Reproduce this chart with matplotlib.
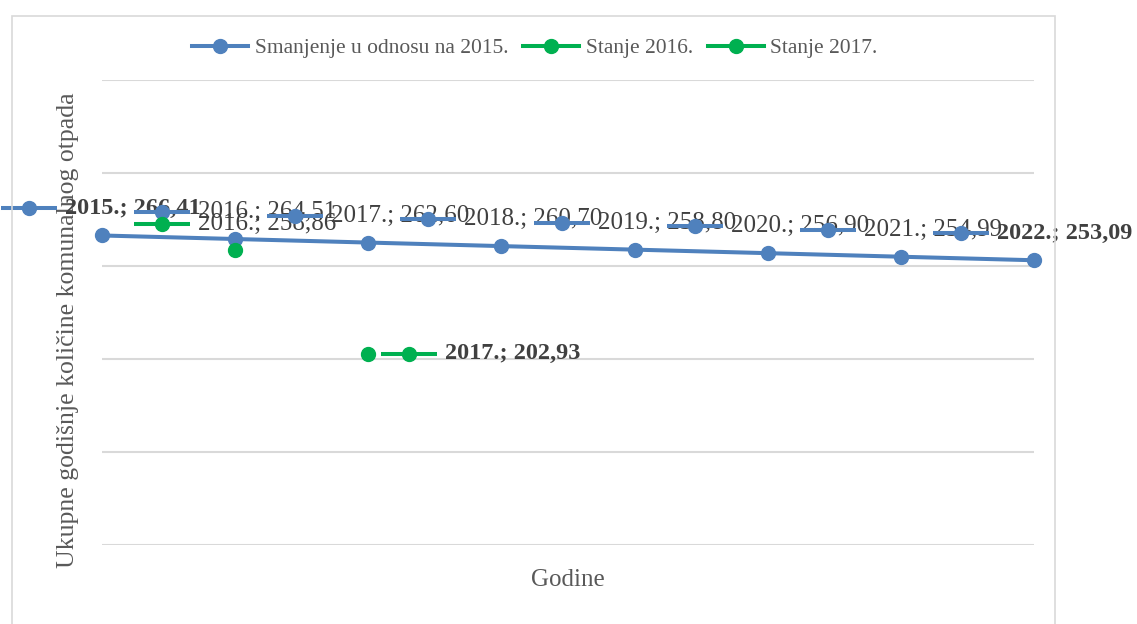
import matplotlib.pyplot as plt
from matplotlib.patches import Rectangle
from matplotlib.transforms import Affine2D

years = [2015, 2016, 2017, 2018, 2019, 2020, 2021, 2022]
smanjenje = [266.41, 264.51, 262.60, 260.70, 258.80, 256.90, 254.99, 253.09]
stanje_2016_year = [2016]
stanje_2016 = [258.86]
stanje_2017_year = [2017]
stanje_2017 = [202.93]

series_names = ['Smanjenje u odnosu na 2015.', 'Stanje 2016.', 'Stanje 2017.']
bold_labels = [2015, 2022]

blue = '#4f81bd'
green = '#00b050'
txt = '#404040'
grey = '#595959'

plt.rcParams['font.family'] = ['Liberation Serif', 'DejaVu Serif']

fig = plt.figure(figsize=(11.37, 6.24), dpi=100)
ax = fig.add_axes([102/1137, 1-545/624, 932/1137, 465/624])

# chart border
fig.patches.append(Rectangle((12/1137, -0.2), (1055-12)/1137, 1.2-16/624,
                             transform=fig.transFigure, fill=False,
                             edgecolor='#d9d9d9', lw=1.2))

ax.set_xlim(2015, 2022)
ax.set_ylim(100, 350)
ax.set_yticks([100, 150, 200, 250, 300, 350])
ax.set_xticks([])
ax.tick_params(left=False, labelleft=False)
ax.grid(axis='y', color='#d9d9d9', lw=1.5)
ax.set_axisbelow(True)
for s in ax.spines.values():
    s.set_visible(False)

lw = 2.9
ms = 10
ax.plot(years, smanjenje, color=blue, lw=lw, marker='o', ms=ms, clip_on=False,
        label=series_names[0], zorder=3)
ax.plot(stanje_2016_year, stanje_2016, color=green, lw=lw, marker='o', ms=ms,
        clip_on=False, label=series_names[1], zorder=3)
ax.plot(stanje_2017_year, stanje_2017, color=green, lw=lw, marker='o', ms=ms,
        clip_on=False, label=series_names[2], zorder=3)


def fmt(y, v):
    return f'{y}.; ' + f'{v:.2f}'.replace('.', ',')


def data_label(x, v, color, dx, dy, bold=False):
    # text first, legend key drawn on top (like Excel)
    ax.annotate(fmt(x, v), xy=(x, v), xytext=(dx + 36, dy), textcoords='offset pixels',
                ha='left', va='center', fontsize=17.5 if bold else 18, color=txt,
                fontweight='bold' if bold else 'normal', annotation_clip=False, zorder=4)
    shift = ax.transData + Affine2D().translate(dx, dy)
    ax.plot([x], [v], marker='_', ms=40, mew=lw, color=color, clip_on=False,
            zorder=5, transform=shift)
    ax.plot([x], [v], marker='o', ms=ms, color=color, clip_on=False,
            zorder=5, transform=shift)


for y, v in zip(years, smanjenje):
    data_label(y, v, blue, -73, 27, bold=y in bold_labels)
data_label(stanje_2016_year[0], stanje_2016[0], green, -73, 26)
data_label(stanje_2017_year[0], stanje_2017[0], green, 41, 0, bold=True)

ax.set_xlabel('Godine', fontsize=18, color=grey)
ax.xaxis.set_label_coords(0.5, -0.075)
ax.set_ylabel('Ukupne godišnje količine komunalnog otpada', fontsize=18.5, color=grey)
ax.yaxis.set_label_coords(-0.0365, 0.462)
ax.yaxis.label.set_va('center')
ax.xaxis.label.set_va('center')

fig.legend(loc='center', bbox_to_anchor=(535/1137, 1-48/624), ncol=3, frameon=False,
           fontsize=15.5, labelcolor=grey, handlelength=2.6, columnspacing=0.7,
           handletextpad=0.3)

fig.savefig('out.png', dpi=100)
